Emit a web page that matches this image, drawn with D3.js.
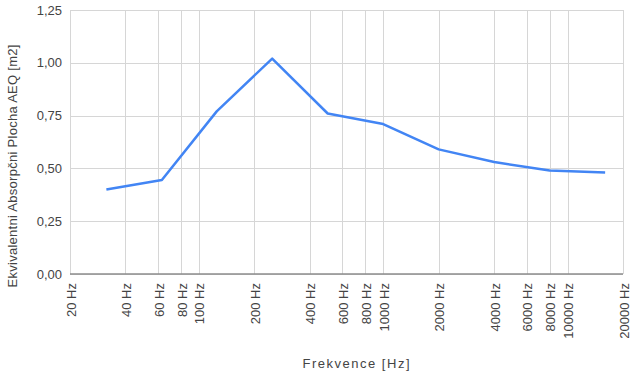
<!DOCTYPE html>
<html>
<head>
<meta charset="utf-8">
<script src="https://cdn.jsdelivr.net/npm/d3@7"></script>
<style>
  body { margin: 0; background: #fff; }
  text { font-family: Arial, "Liberation Sans", sans-serif; fill: #444; }
</style>
</head>
<body>
<div id="container"></div>
<script>
/* DATA */
const freqs = [31.5, 63, 125, 250, 500, 1000, 2000, 4000, 8000, 16000]
const aeq = [0.40, 0.445, 0.77, 1.02, 0.76, 0.71, 0.59, 0.53, 0.49, 0.48]
const xTicks = [20, 40, 60, 80, 100, 200, 400, 600, 800, 1000, 2000, 4000, 6000, 8000, 10000, 20000]
const yTicks = [0, 0.25, 0.5, 0.75, 1.0, 1.25]

/* CONSTANTS */
const width = 636,
  height = 376,
  margin = { top: 10, bottom: 102, left: 70, right: 13 }

const data = freqs.map((f, i) => ({ f: f, v: aeq[i] }))

const svg = d3.select("#container")
  .append("svg")
  .attr("width", width)
  .attr("height", height)

// SCALES
const xScale = d3.scaleLog()
  .domain([20, 20000])
  .range([margin.left, width - margin.right])

const yScale = d3.scaleLinear()
  .domain([0, 1.25])
  .range([height - margin.bottom, margin.top])

// GRID
svg.append("g")
  .selectAll("line")
  .data(yTicks)
  .join("line")
  .attr("x1", margin.left)
  .attr("x2", width - margin.right)
  .attr("y1", d => Math.round(yScale(d)) + 0.5)
  .attr("y2", d => Math.round(yScale(d)) + 0.5)
  .attr("stroke", "#d6d6d6")

svg.append("g")
  .selectAll("line")
  .data(xTicks)
  .join("line")
  .attr("x1", d => Math.round(xScale(d)) + 0.5)
  .attr("x2", d => Math.round(xScale(d)) + 0.5)
  .attr("y1", margin.top)
  .attr("y2", height - margin.bottom)
  .attr("stroke", "#d6d6d6")

// baseline
svg.append("line")
  .attr("x1", margin.left)
  .attr("x2", width - margin.right)
  .attr("y1", yScale(0))
  .attr("y2", yScale(0))
  .attr("stroke", "#8c8c8c")
  .attr("stroke-width", 1.5)

// Y LABELS
svg.append("g")
  .selectAll("text")
  .data(yTicks)
  .join("text")
  .attr("x", margin.left - 8)
  .attr("y", d => yScale(d))
  .attr("dy", "0.35em")
  .attr("text-anchor", "end")
  .style("font-size", "13px")
  .text(d => d3.format(".2f")(d).replace(".", ","))

// X LABELS
svg.append("g")
  .selectAll("text")
  .data(xTicks)
  .join("text")
  .attr("transform", d => `translate(${xScale(d) + 1}, ${height - margin.bottom + 9}) rotate(-90)`)
  .attr("dy", "0.35em")
  .attr("text-anchor", "end")
  .style("font-size", "13px")
  .text(d => d + " Hz")

// LINE
const lineGen = d3.line()
  .x(d => xScale(d.f))
  .y(d => yScale(d.v))

svg.append("path")
  .datum(data)
  .attr("fill", "none")
  .attr("stroke", "#4285f4")
  .attr("stroke-width", 2.5)
  .attr("stroke-linejoin", "round")
  .attr("d", lineGen)

// TITLES
svg.append("text")
  .attr("x", 356)
  .attr("y", 368)
  .attr("text-anchor", "middle")
  .attr("textLength", 107)
  .attr("lengthAdjust", "spacing")
  .style("font-size", "13px")
  .text("Frekvence [Hz]")

svg.append("text")
  .attr("transform", "translate(17, 166) rotate(-90)")
  .attr("text-anchor", "middle")
  .attr("textLength", 243)
  .attr("lengthAdjust", "spacing")
  .style("font-size", "13px")
  .text("Ekvivalentni Absorpčni Plocha AEQ [m2]")
</script>
</body>
</html>
